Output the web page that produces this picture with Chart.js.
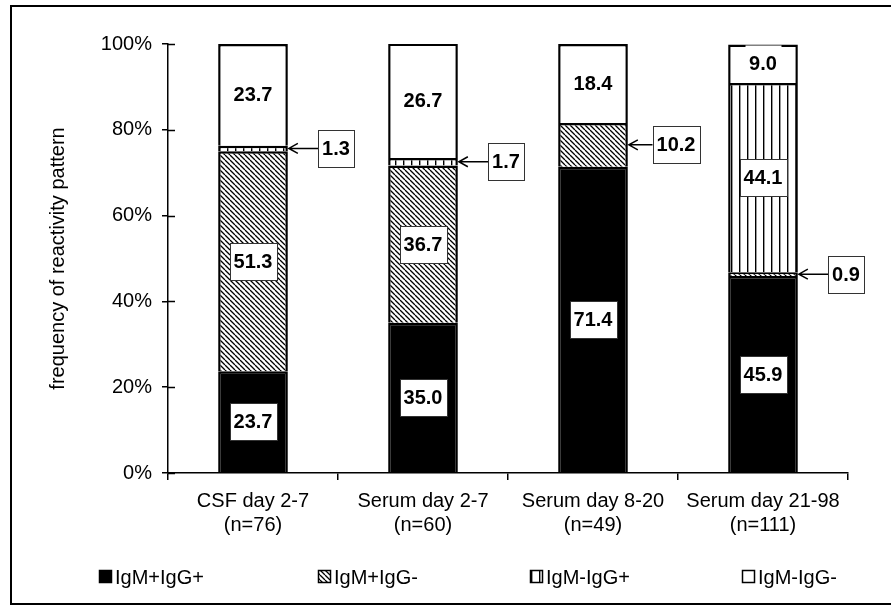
<!DOCTYPE html>
<html><head><meta charset="utf-8">
<script src="https://cdn.jsdelivr.net/npm/chart.js@4/dist/chart.umd.min.js"></script>
<style>html,body{margin:0;padding:0;background:#fff;}#wrap{width:891px;height:606px;}</style>
</head><body><div id="wrap"><canvas id="c" width="891" height="606"></canvas></div>
<script>
const categories = ["CSF day 2-7", "Serum day 2-7", "Serum day 8-20", "Serum day 21-98"];
const sampleSizes = ["(n=76)", "(n=60)", "(n=49)", "(n=111)"];
const igmPosIggPos = [23.7, 35.0, 71.4, 45.9];
const igmPosIggNeg = [51.3, 36.7, 10.2, 0.9];
const igmNegIggPos = [1.3, 1.7, 0, 44.1];
const igmNegIggNeg = [23.7, 26.7, 18.4, 9.0];
const seriesNames = ["IgM+IgG+", "IgM+IgG-", "IgM-IgG+", "IgM-IgG-"];
const yTickValues = [0, 20, 40, 60, 80, 100];

const FONT = "'Liberation Sans', Arial, sans-serif";
const calloutBelow = 12;

function makePattern(kind) {
  const c = document.createElement('canvas');
  const g = c.getContext('2d');
  if (kind === 'diag') {
    const s = 5; c.width = s; c.height = s;
    g.fillStyle = '#fff'; g.fillRect(0, 0, s, s);
    g.strokeStyle = '#000'; g.lineWidth = 1.3;
    g.beginPath();
    for (const o of [-s, 0, s]) { g.moveTo(o, 0); g.lineTo(o + s, s); }
    g.stroke();
  } else {
    c.width = 8; c.height = 8;
    g.fillStyle = '#fff'; g.fillRect(0, 0, 8, 8);
    g.fillStyle = '#000'; g.fillRect(3, 0, 1.4, 8);
  }
  return g.createPattern(c, 'repeat');
}
const diagPat = makePattern('diag');
const vertPat = makePattern('vert');
const fills = ['#000', diagPat, vertPat, '#fff'];
const seriesData = [igmPosIggPos, igmPosIggNeg, igmNegIggPos, igmNegIggNeg];

const decor = {
  id: 'decor',
  afterDraw(chart) {
    const ctx = chart.ctx;
    const ys = chart.scales.y;
    const area = chart.chartArea;
    ctx.save();
    // outer frame
    ctx.strokeStyle = '#000'; ctx.lineWidth = 2;
    ctx.strokeRect(11, 6, 900, 598);
    // inner half of y ticks
    ctx.lineWidth = 1.5;
    ctx.beginPath();
    yTickValues.forEach(v => {
      const py = Math.round(ys.getPixelForValue(v)) + 0.5;
      ctx.moveTo(area.left, py); ctx.lineTo(area.left + 7, py);
    });
    ctx.stroke();
    // value labels
    chart.data.datasets.forEach((ds, di) => {
      const meta = chart.getDatasetMeta(di);
      meta.data.forEach((bar, j) => {
        const v = ds.data[j];
        if (!v) return;
        const p = bar.getProps(['x', 'y', 'base', 'width'], true);
        const midY = (p.y + p.base) / 2;
        const txt = v.toFixed(1);
        ctx.font = 'bold 20px ' + FONT;
        const tw = ctx.measureText(txt).width;
        const bw = Math.round(tw + 8), bh = 37;
        const isWhite = di === 3;
        let cx = p.x;
        if (!isWhite && v < calloutBelow) {
          cx = p.x + 83;
          const barRight = p.x + p.width / 2;
          const boxLeft = cx - bw / 2;
          ctx.strokeStyle = '#000'; ctx.lineWidth = 1.5;
          ctx.beginPath();
          ctx.moveTo(barRight + 1, midY); ctx.lineTo(boxLeft, midY);
          ctx.moveTo(barRight + 10, midY - 5); ctx.lineTo(barRight + 1, midY); ctx.lineTo(barRight + 10, midY + 5);
          ctx.stroke();
        }
        const bx = Math.round(cx - bw / 2) + 0.5, by = Math.round(midY - bh / 2) + 0.5;
        ctx.fillStyle = '#fff';
        ctx.fillRect(bx, by, bw, bh);
        if (!isWhite) {
          ctx.strokeStyle = '#333'; ctx.lineWidth = 1;
          ctx.strokeRect(bx, by, bw, bh);
        }
        ctx.fillStyle = '#000';
        ctx.textAlign = 'center'; ctx.textBaseline = 'middle';
        ctx.fillText(txt, cx, midY + 1);
      });
    });
    // legend
    const legendX = [99, 318, 530, 742];
    const ly = 577;
    ctx.font = '20px ' + FONT;
    ctx.textAlign = 'left'; ctx.textBaseline = 'middle';
    seriesNames.forEach((name, i) => {
      const x = legendX[i];
      ctx.fillStyle = fills[i];
      ctx.fillRect(x, ly - 7, 13, 13);
      ctx.strokeStyle = '#000'; ctx.lineWidth = 1.5;
      ctx.strokeRect(x + 0.5, ly - 6.5, 12, 12);
      ctx.fillStyle = '#000';
      ctx.fillText(name, x + 16, ly + 1);
    });
    ctx.restore();
  }
};

new Chart(document.getElementById('c'), {
  type: 'bar',
  data: {
    labels: categories.map((c, i) => [c, sampleSizes[i]]),
    datasets: seriesNames.map((name, i) => ({
      label: name,
      data: seriesData[i],
      backgroundColor: fills[i],
      borderColor: '#000',
      borderWidth: 2.5,
      barPercentage: 0.41,
      categoryPercentage: 1.0
    }))
  },
  options: {
    responsive: false,
    devicePixelRatio: 1,
    animation: false,
    layout: { padding: { left: 0, top: 44, right: 43, bottom: 43 } },
    plugins: { legend: { display: false }, tooltip: { enabled: false } },
    scales: {
      x: {
        stacked: true,
        grid: { display: true, drawOnChartArea: false, offset: true, tickLength: 7, color: '#000', lineWidth: 1.5 },
        border: { display: true, color: '#000', width: 1.5 },
        ticks: { color: '#000', font: { family: FONT, size: 20 }, padding: 9, maxRotation: 0, autoSkip: false },
        afterFit(s) { s.height = 90; }
      },
      y: {
        stacked: true, min: 0, max: 100,
        afterBuildTicks(s) { s.ticks = yTickValues.map(v => ({ value: v })); },
        ticks: { color: '#000', font: { family: FONT, size: 20 }, padding: 10, callback: v => v + '%' },
        grid: { display: true, drawOnChartArea: false, tickLength: 6, color: '#000', lineWidth: 1.5 },
        border: { display: true, color: '#000', width: 1.5 },
        title: { display: true, text: 'frequency of reactivity pattern', color: '#000', font: { family: FONT, size: 20 }, padding: { top: 46, bottom: 0 } },
        afterFit(s) { s.width = 168; }
      }
    }
  },
  plugins: [decor]
});
</script></body></html>
